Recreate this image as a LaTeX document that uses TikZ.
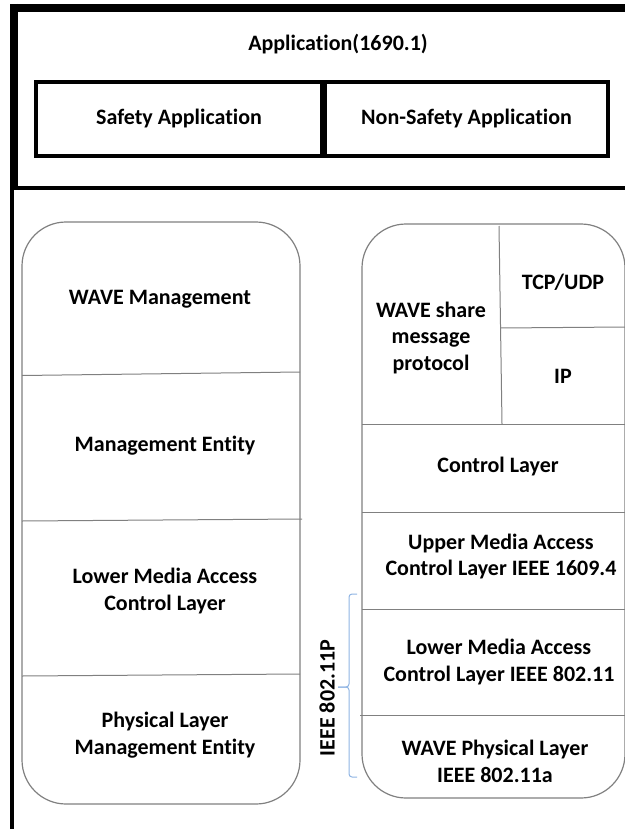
\documentclass[tikz,border=0pt]{standalone}
\usepackage{fontspec}
\setmainfont{Carlito}[RawFeature=-liga]
\definecolor{edgegray}{RGB}{128,128,128}
\definecolor{bracecol}{RGB}{143,180,227}
\tikzset{
  appbox/.style={draw=black, line width=4pt, inner sep=0pt},
  stackbox/.style={draw=edgegray, line width=1.2pt, rounded corners=44pt, inner sep=0pt},
  divider/.style={draw=edgegray, line width=1pt},
  lbl/.style={font=\bfseries\fontsize{22}{26.5}\selectfont, align=center, inner sep=0pt},
  bracket/.style={draw=bracecol, line width=1pt, rounded corners=3pt}
}
\begin{document}
\begin{tikzpicture}[x=1pt,y=-1pt]
\useasboundingbox (0,0) rectangle (624,829);

% outer frames
\draw[line width=8pt] (10,8) -- (640,8);
\draw[line width=8pt] (14,4) -- (14,188);
\draw[line width=4.5pt] (10,188) -- (640,188);
\draw[line width=4pt] (12,188) -- (12,840);

% application layer
\node[lbl] (app) at (338,44) {Application(1690.1)};
\node[appbox, minimum width=286pt, minimum height=74pt] (safety) at (179,119) {};
\node[appbox, minimum width=283pt, minimum height=74pt] (nonsafety) at (466.5,119) {};
\node[lbl] (safetytxt) at (safety.center) {Safety Application};
\node[lbl] (nonsafetytxt) at (nonsafety.center) {Non-Safety Application};

% management plane
\node[stackbox, minimum width=278pt, minimum height=582pt] (mgmt) at (161,513) {};
\draw[divider] (22,375.5) -- (300,372);
\draw[divider] (22,521) -- (302,519);
\draw[divider] (22,676) -- (300,674);
\node[lbl] (wavemgmt) at (160,299) {WAVE Management};
\node[lbl] (mgmtent) at (165,446) {Management Entity};
\node[lbl] (lowermac) at (165,591) {Lower Media Access\\Control Layer};
\node[lbl] (phymgmt) at (165,735) {Physical Layer\\Management Entity};

% data plane
\node[stackbox, minimum width=263pt, minimum height=574pt] (data) at (493.5,511) {};
\draw[divider] (499,226) -- (502,424);
\draw[divider] (500,328) -- (625,327);
\draw[divider] (362,424) -- (625,424);
\draw[divider] (362,512) -- (625,512);
\draw[divider] (362,609) -- (625,609);
\draw[divider] (360,715) -- (625,715);
\node[lbl] (tcp) at (563,282) {TCP/UDP};
\node[lbl] (wsmp) at (431,338) {WAVE share\\message\\protocol};
\node[lbl] (ip) at (563,376) {IP};
\node[lbl] (ctrl) at (498,467) {Control Layer};
\node[lbl] (uppermac) at (501,556.5) {Upper Media Access\\Control Layer IEEE 1609.4};
\node[lbl] (lowermac2) at (499,662) {Lower Media Access\\Control Layer IEEE 802.11};
\node[lbl] (wavephy) at (495,761.5) {WAVE Physical Layer\\IEEE 802.11a};

% IEEE 802.11p brace
\draw[bracket] (357,594) -- (349,594) -- (349,687) -- (338,687);
\draw[bracket] (338,687) -- (349,687) -- (349,777) -- (357,777);
\node[lbl, rotate=90] (p80211) at (327,698) {IEEE 802.11P};
\end{tikzpicture}
\end{document}
